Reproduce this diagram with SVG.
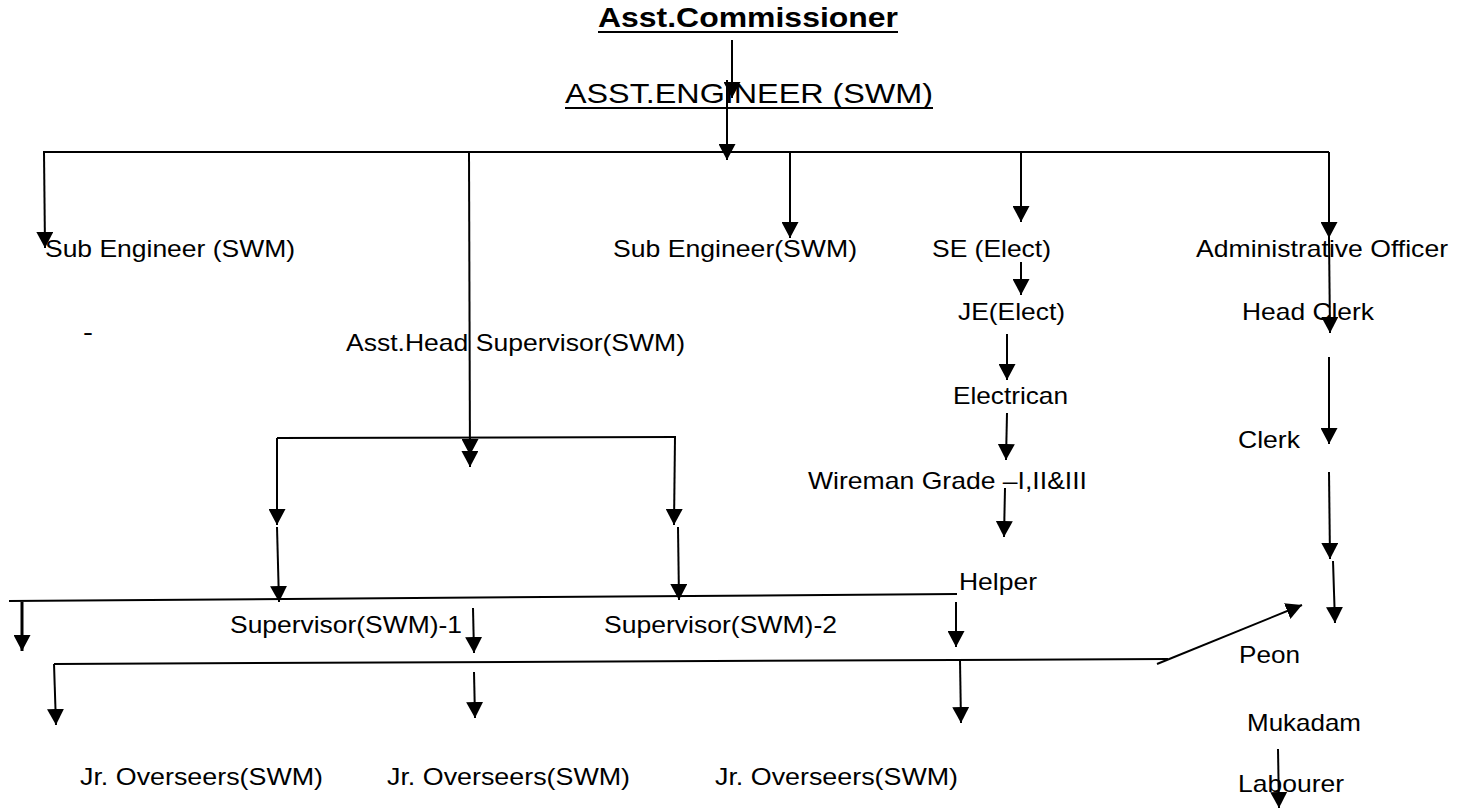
<svg xmlns="http://www.w3.org/2000/svg" width="1468" height="809" viewBox="0 0 1468 809">
<style>
  text { font-family: "Liberation Sans", Arial, sans-serif; font-size: 24px; fill: #000; }
  .title { font-size: 27px; font-weight: bold; }
  .big { font-size: 28px; }
  .ul { stroke: #000; stroke-width: 2.2; }
  #connectors line, #connectors polyline { stroke: #000; stroke-width: 2; fill: none; }
  #connectors .arr { marker-end: url(#ah); }
  #connectors .thick { stroke-width: 3; }
</style>
<defs>
  <marker id="ah" viewBox="0 0 16 17" refX="16" refY="8.5" markerWidth="16" markerHeight="17" markerUnits="userSpaceOnUse" orient="auto">
    <path d="M0,0 L16,8.5 L0,17 z" fill="#000"/>
  </marker>
</defs>
<rect width="1468" height="809" fill="#fff"/>

<g id="asst-commissioner">
  <text class="title" x="598" y="27" textLength="300" lengthAdjust="spacingAndGlyphs">Asst.Commissioner</text>
  <line class="ul" x1="598" y1="32" x2="898" y2="32"/>
</g>
<g id="asst-engineer">
  <text class="big" x="565" y="103" textLength="368" lengthAdjust="spacingAndGlyphs">ASST.ENGINEER (SWM)</text>
  <line class="ul" x1="565" y1="108" x2="933" y2="108"/>
</g>
<g id="sub-engineer-1"><text x="45" y="257" textLength="250" lengthAdjust="spacingAndGlyphs">Sub Engineer (SWM)</text></g>
<g id="sub-engineer-2"><text x="613" y="257" textLength="244" lengthAdjust="spacingAndGlyphs">Sub Engineer(SWM)</text></g>
<g id="se-elect"><text x="932" y="257" textLength="119" lengthAdjust="spacingAndGlyphs">SE (Elect)</text></g>
<g id="admin-officer"><text x="1196" y="257" textLength="252" lengthAdjust="spacingAndGlyphs">Administrative Officer</text></g>
<g id="je-elect"><text x="958" y="320" textLength="107" lengthAdjust="spacingAndGlyphs">JE(Elect)</text></g>
<g id="head-clerk"><text x="1242" y="320" textLength="132" lengthAdjust="spacingAndGlyphs">Head Clerk</text></g>
<g id="dash"><text x="83" y="340" textLength="10" lengthAdjust="spacingAndGlyphs">-</text></g>
<g id="asst-head-supervisor"><text x="346" y="351" textLength="339" lengthAdjust="spacingAndGlyphs">Asst.Head Supervisor(SWM)</text></g>
<g id="electrican"><text x="953" y="404" textLength="115" lengthAdjust="spacingAndGlyphs">Electrican</text></g>
<g id="clerk"><text x="1238" y="448" textLength="62" lengthAdjust="spacingAndGlyphs">Clerk</text></g>
<g id="wireman"><text x="808" y="489" textLength="279" lengthAdjust="spacingAndGlyphs">Wireman Grade –I,II&amp;III</text></g>
<g id="helper"><text x="959" y="590" textLength="78" lengthAdjust="spacingAndGlyphs">Helper</text></g>
<g id="supervisor-1"><text x="230" y="633" textLength="232" lengthAdjust="spacingAndGlyphs">Supervisor(SWM)-1</text></g>
<g id="supervisor-2"><text x="604" y="633" textLength="233" lengthAdjust="spacingAndGlyphs">Supervisor(SWM)-2</text></g>
<g id="peon"><text x="1239" y="663" textLength="61" lengthAdjust="spacingAndGlyphs">Peon</text></g>
<g id="mukadam"><text x="1247" y="731" textLength="114" lengthAdjust="spacingAndGlyphs">Mukadam</text></g>
<g id="jr-overseers-1"><text x="80" y="785" textLength="243" lengthAdjust="spacingAndGlyphs">Jr. Overseers(SWM)</text></g>
<g id="jr-overseers-2"><text x="387" y="785" textLength="243" lengthAdjust="spacingAndGlyphs">Jr. Overseers(SWM)</text></g>
<g id="jr-overseers-3"><text x="715" y="785" textLength="243" lengthAdjust="spacingAndGlyphs">Jr. Overseers(SWM)</text></g>
<g id="labourer"><text x="1238" y="792" textLength="106" lengthAdjust="spacingAndGlyphs">Labourer</text></g>

<g id="connectors">
  <line class="arr" x1="732" y1="40" x2="732" y2="98"/>
  <line class="arr" x1="727" y1="80" x2="727" y2="160"/>
  <line x1="43" y1="152" x2="1329" y2="152"/>
  <line class="arr" x1="44" y1="152" x2="45" y2="248"/>
  <line class="arr" x1="469" y1="152" x2="470" y2="467"/>
  <line class="arr" x1="470" y1="437" x2="470" y2="455"/>
  <line class="arr" x1="790" y1="152" x2="790" y2="238"/>
  <line class="arr" x1="1021" y1="152" x2="1021" y2="222"/>
  <line class="arr" x1="1329" y1="152" x2="1329" y2="238"/>
  <line class="arr" x1="1329" y1="238" x2="1330" y2="333"/>
  <line class="arr" x1="1021" y1="262" x2="1021" y2="295"/>
  <line class="arr" x1="1007" y1="334" x2="1007" y2="380"/>
  <line class="arr" x1="1007" y1="413" x2="1006" y2="460"/>
  <line class="arr" x1="1005" y1="488" x2="1004" y2="537"/>
  <line class="arr" x1="1329" y1="357" x2="1329" y2="444"/>
  <line class="arr" x1="1329" y1="472" x2="1330" y2="559"/>
  <line class="arr" x1="1333" y1="561" x2="1335" y2="623"/>
  <line class="arr" x1="1157" y1="664" x2="1302" y2="605"/>
  <line class="arr" x1="1278" y1="749" x2="1279" y2="808"/>

  <line x1="277" y1="438" x2="676" y2="437"/>
  <line class="arr" x1="277" y1="438" x2="277" y2="525"/>
  <line class="arr" x1="675" y1="437" x2="674" y2="525"/>
  <line class="arr" x1="277" y1="527" x2="279" y2="602"/>
  <line class="arr" x1="678" y1="527" x2="679" y2="600"/>

  <line x1="9" y1="601" x2="957" y2="594"/>
  <line class="arr thick" x1="22" y1="602" x2="22" y2="651"/>
  <line class="arr" x1="473" y1="608" x2="474" y2="653"/>
  <line class="arr" x1="956" y1="602" x2="956" y2="647"/>

  <line x1="54" y1="664" x2="1168" y2="659"/>
  <line class="arr" x1="54" y1="664" x2="56" y2="725"/>
  <line class="arr" x1="474" y1="672" x2="475" y2="718"/>
  <line class="arr" x1="960" y1="660" x2="961" y2="723"/>
</g>
</svg>
